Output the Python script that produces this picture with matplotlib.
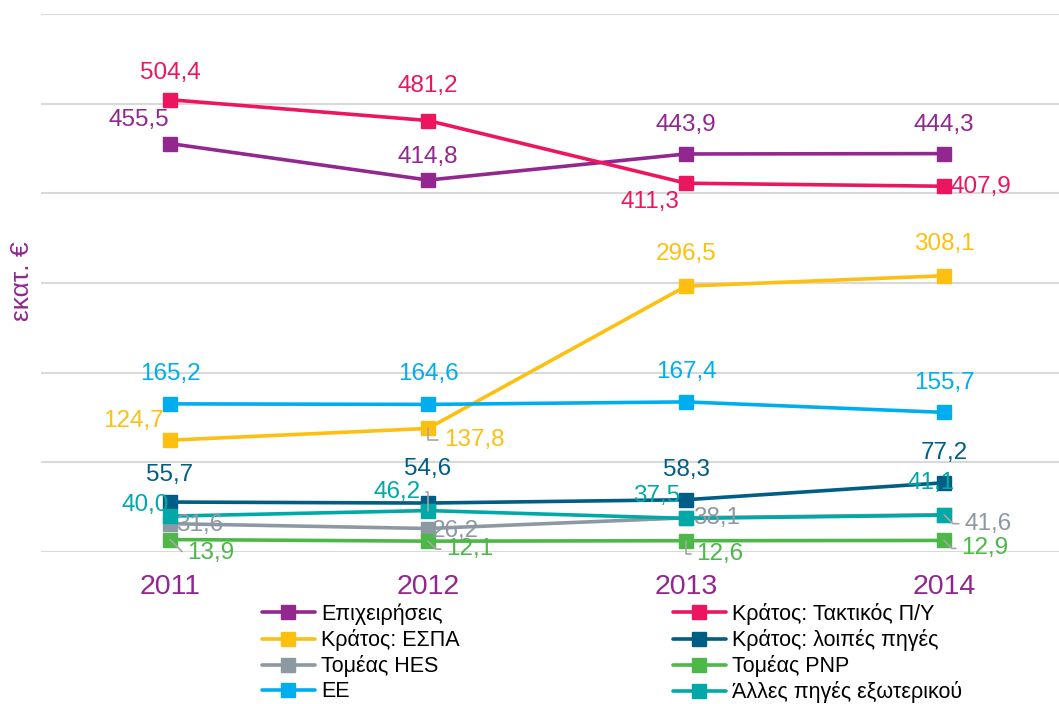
import numpy as np
import matplotlib
matplotlib.use('Agg')
import matplotlib.pyplot as plt

plt.rcParams['font.family'] = ['Liberation Sans', 'DejaVu Sans']

# Δεδομένα
years = ['2011', '2012', '2013', '2014']
epixeiriseis = [455.5, 414.8, 443.9, 444.3]
taktikos = [504.4, 481.2, 411.3, 407.9]
espa = [124.7, 137.8, 296.5, 308.1]
loipes = [55.7, 54.6, 58.3, 77.2]
hes = [31.6, 26.2, 38.1, 41.6]
pnp = [13.9, 12.1, 12.6, 12.9]
ee = [165.2, 164.6, 167.4, 155.7]
alles = [40.0, 46.2, 37.5, 41.1]

names = ['Επιχειρήσεις', 'Κράτος: Τακτικός Π/Υ', 'Κράτος: ΕΣΠΑ', 'Κράτος: λοιπές πηγές',
         'Τομέας HES', 'Τομέας PNP', 'ΕΕ', 'Άλλες πηγές εξωτερικού']
series = [epixeiriseis, taktikos, espa, loipes, hes, pnp, ee, alles]
colors = ['#92278F', '#EC1660', '#FDC010', '#005D85',
          '#8D99A2', '#4DB848', '#00AEEF', '#00A9A8']

# θέσεις ετικετών (offset σε pixels) και γωνία γραμμής οδηγού
offsets = [
    [(-31, 24, None), (0, 23, None), (0, 29, None), (0, 29, None)],
    [(0, 27, None), (0, 35, None), (-36, -19, None), (37, -1, None)],
    [(-37, 19, None), (46, -12, 90), (0, 32, None), (0, 32, None)],
    [(0, 27, None), (0, 34, None), (0, 30, None), (0, 30, None)],
    [(30, -1, None), (27, -2, None), (31, 0, None), (44, -9, -45)],
    [(41, -13, -45), (42, -8, -45), (34, -13, 90), (41, -8, -45)],
    [(0, 30, None), (0, 30, None), (0, 30, None), (0, 29, None)],
    [(-25, 11, None), (-31, 19, 90), (-29, 22, None), (-13, 32, None)],
]

fig = plt.figure(figsize=(10.59, 7.04), dpi=100)
ax = fig.add_axes([41 / 1059, 1 - 552 / 704, 4 * 258 / 1059, 538 / 704])

x = np.arange(len(years))
handles = []
for vals, name, c in zip(series, names, colors):
    h, = ax.plot(x, vals, color=c, lw=2.6, marker='s', markersize=9.5,
                 label=name, solid_capstyle='round', clip_on=False)
    handles.append(h)

for vals, c, offs in zip(series, colors, offsets):
    for i, v in enumerate(vals):
        dx, dy, lead = offs[i]
        txt = f'{v:.1f}'.replace('.', ',')
        kw = {}
        if lead is not None:
            rel = (0, 0.5) if dx > 0 else (1, 0.5)
            kw['arrowprops'] = dict(arrowstyle='-', color='#A6A6A6', lw=1.2,
                                    shrinkA=2, shrinkB=0, relpos=rel,
                                    connectionstyle=f'angle,angleA=0,angleB={lead},rad=0')
        ax.annotate(txt, (i, v), xytext=(dx, dy), textcoords='offset pixels',
                    ha='center', va='center', fontsize=17.5, color=c,
                    annotation_clip=False, **kw)

ax.set_xlim(-0.5, 3.5)
ax.set_ylim(0, 600)
ax.set_yticks(np.arange(0, 601, 100))
ax.set_yticklabels([])
ax.set_xticks(x)
ax.set_xticklabels(years, fontsize=20.5, color='#92278F')
ax.tick_params(axis='both', length=0)
ax.tick_params(axis='x', pad=16)
ax.grid(axis='y', color='#D9D9D9', lw=1.5)
ax.set_axisbelow(True)
for s in ax.spines.values():
    s.set_visible(False)

fig.text(22 / 1059, 1 - 281 / 704, 'εκατ. €', rotation=90, ha='center', va='center',
         fontsize=19, color='#92278F')

order = [0, 2, 4, 6, 1, 3, 5, 7]
fig.legend([handles[k] for k in order], [names[k] for k in order], ncol=2,
           loc='upper left', bbox_to_anchor=(262 / 1059, 1 - 603 / 704),
           frameon=False, fontsize=15.5, labelspacing=0.19, handlelength=2.45,
           handletextpad=0.3, columnspacing=9.9, borderpad=0, borderaxespad=0)

fig.savefig('out.png', dpi=100)
